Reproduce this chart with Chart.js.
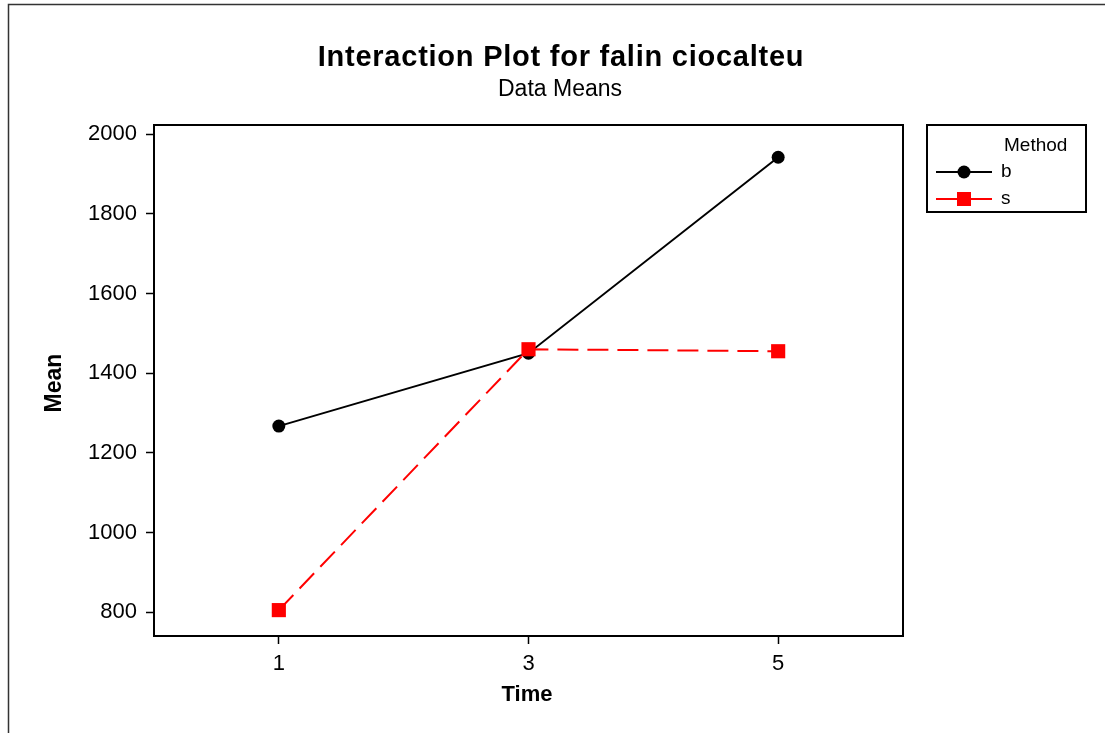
<!DOCTYPE html>
<html>
<head>
<meta charset="utf-8">
<script src="https://cdn.jsdelivr.net/npm/chart.js@4.4.1/dist/chart.umd.min.js"></script>
<style>
  html, body { margin: 0; padding: 0; background: #fff; }
  #wrap { width: 1105px; height: 733px; position: relative; }
</style>
</head>
<body>
<div id="wrap"><canvas id="chart" width="1105" height="733"></canvas></div>
<script>
// ---- data ----
const timeValues = [1, 3, 5];
const methodB = [1267, 1450, 1942];
const methodS = [805, 1460, 1455];
const yTickValues = [800, 1000, 1200, 1400, 1600, 1800, 2000];
const methodNames = ['b', 's'];

const FONT = '"Liberation Sans", Arial, sans-serif';

// frame, titles, axis titles and legend box (Minitab look)
const decorPlugin = {
  id: 'decor',
  beforeDraw(chart) {
    const ctx = chart.ctx;
    ctx.save();
    ctx.fillStyle = '#fff';
    ctx.fillRect(0, 0, chart.width, chart.height);
    // outer graph frame
    ctx.strokeStyle = '#333';
    ctx.lineWidth = 1.5;
    ctx.beginPath();
    ctx.moveTo(8.5, chart.height);
    ctx.lineTo(8.5, 4.5);
    ctx.lineTo(chart.width, 4.5);
    ctx.stroke();
    ctx.restore();
  },
  afterDraw(chart) {
    const ctx = chart.ctx;
    const a = chart.chartArea;
    ctx.save();
    // box around the data region
    ctx.strokeStyle = '#000';
    ctx.lineWidth = 2;
    ctx.strokeRect(a.left, a.top, a.right - a.left, a.bottom - a.top);

    // title
    ctx.fillStyle = '#000';
    ctx.textAlign = 'center';
    ctx.textBaseline = 'middle';
    ctx.font = 'bold 29px ' + FONT;
    const title = 'Interaction Plot for falin ciocalteu';
    const w = ctx.measureText(title).width;
    ctx.letterSpacing = Math.max(0, (486 - w) / (title.length - 1)).toFixed(2) + 'px';
    ctx.fillText(title, 561, 58);
    ctx.letterSpacing = '0px';
    ctx.font = '23px ' + FONT;
    ctx.fillText('Data Means', 560, 90);

    // axis titles
    ctx.font = 'bold 22px ' + FONT;
    ctx.fillText('Time', 527, 695);
    ctx.save();
    ctx.translate(55, 383);
    ctx.rotate(-Math.PI / 2);
    ctx.font = 'bold 23px ' + FONT;
    ctx.fillText('Mean', 0, 0);
    ctx.restore();

    // legend
    const box = { l: 927, t: 125, r: 1086, b: 212 };
    ctx.strokeStyle = '#000';
    ctx.lineWidth = 2;
    ctx.strokeRect(box.l, box.t, box.r - box.l, box.b - box.t);
    ctx.textAlign = 'left';
    ctx.font = '19px ' + FONT;
    ctx.fillText('Method', 1004, 146);
    const rows = [172, 199];
    chart.data.datasets.forEach((ds, i) => {
      const y = rows[i];
      ctx.strokeStyle = ds.borderColor;
      ctx.lineWidth = ds.borderWidth;
      ctx.setLineDash([]);
      ctx.beginPath();
      ctx.moveTo(936, y);
      ctx.lineTo(992, y);
      ctx.stroke();
      ctx.fillStyle = ds.pointBackgroundColor;
      if (ds.pointStyle === 'rect') {
        ctx.fillRect(957, y - 7, 14, 14);
      } else {
        ctx.beginPath();
        ctx.arc(964, y, 6.5, 0, Math.PI * 2);
        ctx.fill();
      }
      ctx.fillStyle = '#000';
      ctx.font = '19px ' + FONT;
      ctx.fillText(ds.label, 1001, y);
    });
    ctx.restore();
  }
};

new Chart(document.getElementById('chart'), {
  type: 'line',
  data: {
    datasets: [
      {
        label: methodNames[0],
        data: timeValues.map((t, i) => ({ x: t, y: methodB[i] })),
        borderColor: '#000',
        backgroundColor: '#000',
        pointBackgroundColor: '#000',
        pointBorderWidth: 0,
        pointRadius: 6.5,
        pointStyle: 'circle',
        borderWidth: 2,
        tension: 0,
        order: 1
      },
      {
        label: methodNames[1],
        data: timeValues.map((t, i) => ({ x: t, y: methodS[i] })),
        borderColor: '#ff0000',
        backgroundColor: '#ff0000',
        pointBackgroundColor: '#ff0000',
        pointBorderWidth: 0,
        pointRadius: 10,
        pointStyle: 'rect',
        borderWidth: 2,
        borderDash: [21, 9],
        tension: 0,
        order: 0
      }
    ]
  },
  options: {
    responsive: false,
    animation: false,
    layout: { padding: { top: 125, right: 202, bottom: 0, left: 0 } },
    plugins: {
      legend: { display: false },
      title: { display: false },
      tooltip: { enabled: false }
    },
    scales: {
      x: {
        type: 'linear',
        min: 0,
        max: 6,
        afterBuildTicks: (scale) => { scale.ticks = timeValues.map(v => ({ value: v })); },
        afterFit: (scale) => { scale.height = 97; },
        grid: { drawOnChartArea: false, drawTicks: true, tickLength: 8, tickColor: '#000', tickWidth: 1.5 },
        border: { color: '#000', width: 2 },
        ticks: { color: '#000', font: { family: FONT, size: 22 }, padding: 7, maxRotation: 0,
                 callback: (v) => String(v) }
      },
      y: {
        type: 'linear',
        min: 740,
        max: 2023,
        afterBuildTicks: (scale) => { scale.ticks = yTickValues.map(v => ({ value: v })); },
        afterFit: (scale) => { scale.width = 154; },
        grid: { drawOnChartArea: false, drawTicks: true, tickLength: 8, tickColor: '#000', tickWidth: 1.5 },
        border: { color: '#000', width: 2 },
        ticks: { color: '#000', font: { family: FONT, size: 22 }, padding: 9,
                 callback: (v) => String(v) }
      }
    }
  },
  plugins: [decorPlugin]
});
</script>
</body>
</html>
